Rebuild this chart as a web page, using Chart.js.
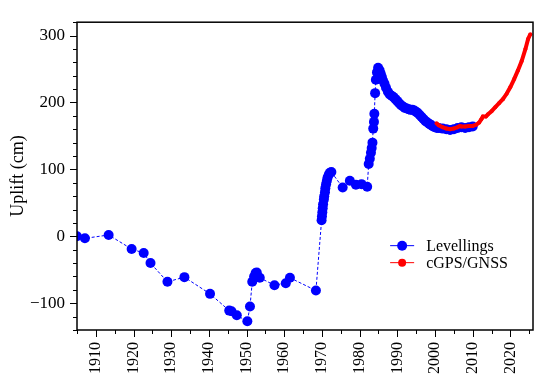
<!DOCTYPE html>
<html lang="en">
<head>
  <meta charset="UTF-8">
  <title>Uplift</title>
  <script src="https://cdn.jsdelivr.net/npm/chart.js@4.4.0/dist/chart.umd.min.js"></script>
  <style>
    html, body { margin: 0; padding: 0; background: #fff; }
  </style>
</head>
<body>
  <canvas id="upliftChart" width="550" height="385"></canvas>

  <script>
    // Levellings (blue dots, dashed line)
    const levelYears = [1905, 1907.1, 1913.4, 1919.5, 1922.7, 1924.5, 1929, 1933.5, 1940.3, 1945.4, 1946, 1947.4,
      1950.2, 1950.9, 1951.5, 1952, 1952.4, 1952.7, 1953.5, 1957.4, 1960.4, 1961.5, 1968.4,
      1969.9, 1970.0, 1970.1, 1970.2, 1970.3, 1970.5, 1970.6, 1970.8, 1970.9, 1971.1, 1971.3, 1971.5, 1971.8, 1972.1, 1972.5,
      1975.5, 1977.4, 1979, 1980.5, 1982,
      1982.4, 1982.7, 1983.0, 1983.2, 1983.4, 1983.6, 1983.8, 1983.9, 1984.1, 1984.3, 1984.6, 1984.9,
      1985.3, 1985.6, 1985.9, 1986.2, 1986.6, 1987.0, 1987.5, 1988.0, 1988.5, 1989.0, 1989.5, 1990.0,
      1990.5, 1991.0, 1991.5, 1992.0, 1992.5, 1993.0, 1993.5, 1994.0, 1994.5, 1995.0, 1995.5, 1996.0,
      1996.5, 1997.0, 1997.5, 1998.0, 1998.5, 1999.0, 1999.5, 2000.0, 2000.5, 2001.0, 2002, 2003,
      2004, 2005, 2006, 2007, 2008, 2009, 2010];
    const levelUplift = [0, -3, 2, -19, -25, -40, -68, -61, -86, -111, -112, -118,
      -127, -105, -68, -60, -55, -54, -62, -73, -70, -62, -81,
      24, 30, 36, 42, 48, 55, 60, 66, 72, 78, 83, 88, 92, 95, 96,
      73, 83, 77, 78, 74,
      108, 116, 125, 132, 140, 161, 171, 183, 214, 234, 245, 252,
      248, 243, 238, 233, 228, 222, 216, 212, 210, 208, 205, 202,
      199, 196, 194, 192, 191, 190, 189, 189, 188, 186, 184, 181,
      178, 175, 172, 170, 168, 166, 164, 163, 162, 162, 161, 160,
      159, 160, 162, 163, 162, 163, 164];

    // cGPS/GNSS (red line)
    const gnssYears = [2000.4, 2001, 2002, 2003, 2004, 2005, 2006, 2006.6, 2007, 2008, 2009, 2010, 2011, 2011.7,
      2012.3, 2012.7, 2013.5, 2014, 2015, 2016, 2017, 2018, 2019, 2020, 2021, 2022, 2023, 2024, 2024.7, 2025.3];
    const gnssUplift = [169, 166, 163, 161, 160, 161, 163, 165, 164, 164, 165, 165, 167, 170,
      175, 179, 179, 182, 187, 193, 199, 205, 213, 223, 235, 248, 262, 280, 295, 302];

    // axes
    const xMajorTicks = [1910, 1920, 1930, 1940, 1950, 1960, 1970, 1980, 1990, 2000, 2010, 2020];
    const xMinorTicks = [1905, 1915, 1925, 1935, 1945, 1955, 1965, 1975, 1985, 1995, 2005, 2015, 2025];
    const yMajorTicks = [-100, 0, 100, 200, 300];
    const yMinorTicks = [-140, -120, -80, -60, -40, -20, 20, 40, 60, 80, 120, 140, 160, 180, 220, 240, 260, 280, 320];

    const serif = '"Liberation Serif", "Times New Roman", serif';

    const toPoints = (xs, ys) => xs.map((x, i) => ({ x: x, y: ys[i] }));

    // frame, outward tick marks and the inside legend
    const framePlugin = {
      id: 'frame',
      afterDraw(chart) {
        const ctx = chart.ctx;
        const a = chart.chartArea;
        const xs = chart.scales.x, ys = chart.scales.y;
        ctx.save();
        ctx.strokeStyle = '#000';
        ctx.lineWidth = 1.5;
        ctx.strokeRect(a.left, a.top, a.right - a.left, a.bottom - a.top);

        ctx.lineWidth = 1;
        ctx.beginPath();
        xMajorTicks.forEach(v => { const p = Math.round(xs.getPixelForValue(v)) + 0.5; ctx.moveTo(p, a.bottom); ctx.lineTo(p, a.bottom + 7); });
        xMinorTicks.forEach(v => { const p = Math.round(xs.getPixelForValue(v)) + 0.5; ctx.moveTo(p, a.bottom); ctx.lineTo(p, a.bottom + 4); });
        yMajorTicks.forEach(v => { const p = Math.round(ys.getPixelForValue(v)) + 0.5; ctx.moveTo(a.left, p); ctx.lineTo(a.left - 7, p); });
        yMinorTicks.forEach(v => { const p = Math.round(ys.getPixelForValue(v)) + 0.5; ctx.moveTo(a.left, p); ctx.lineTo(a.left - 4, p); });
        ctx.stroke();

        // legend
        const lx = a.left + (a.right - a.left) * 0.713;
        const ly = a.top + (a.bottom - a.top) * 0.726;
        const rows = [
          { label: 'Levellings', color: '#0000ff', r: 5 },
          { label: 'cGPS/GNSS', color: '#ff0000', r: 4 }
        ];
        ctx.font = '16px ' + serif;
        ctx.textBaseline = 'middle';
        ctx.textAlign = 'left';
        rows.forEach((row, i) => {
          const y = ly + i * 17;
          ctx.strokeStyle = row.color;
          ctx.lineWidth = 1;
          ctx.beginPath();
          ctx.moveTo(lx - 12, y);
          ctx.lineTo(lx + 12, y);
          ctx.stroke();
          ctx.fillStyle = row.color;
          ctx.beginPath();
          ctx.arc(lx, y, row.r, 0, Math.PI * 2);
          ctx.fill();
          ctx.fillStyle = '#000';
          ctx.fillText(row.label, lx + 24, y + 1);
        });
        ctx.restore();
      }
    };

    new Chart(document.getElementById('upliftChart'), {
      type: 'line',
      data: {
        datasets: [{
          label: 'Levellings',
          data: toPoints(levelYears, levelUplift),
          borderColor: '#0000ff',
          backgroundColor: '#0000ff',
          borderWidth: 1,
          borderDash: [3, 2],
          pointRadius: 5,
          pointBorderWidth: 0,
          order: 1
        }, {
          label: 'cGPS/GNSS',
          data: toPoints(gnssYears, gnssUplift),
          borderColor: '#ff0000',
          backgroundColor: '#ff0000',
          borderWidth: 4,
          pointRadius: 2,
          pointBorderWidth: 0,
          order: 0
        }]
      },
      options: {
        responsive: false,
        animation: false,
        layout: { padding: { top: 13, right: 17, left: 0, bottom: 0 } },
        plugins: {
          legend: { display: false },
          tooltip: { enabled: false }
        },
        scales: {
          x: {
            type: 'linear',
            min: 1905,
            max: 2026,
            grid: { display: false, drawTicks: false },
            border: { display: false },
            afterBuildTicks: s => { s.ticks = xMajorTicks.map(v => ({ value: v })); },
            afterFit: s => { s.height = 55; },
            ticks: {
              minRotation: 90,
              maxRotation: 90,
              padding: 12,
              color: '#000',
              font: { family: serif, size: 16 },
              callback: v => String(v)
            }
          },
          y: {
            min: -140,
            max: 320,
            grid: { display: false, drawTicks: false },
            border: { display: false },
            afterBuildTicks: s => { s.ticks = yMajorTicks.map(v => ({ value: v })); },
            afterFit: s => { s.width = 77; },
            ticks: {
              padding: 12,
              color: '#000',
              font: { family: serif, size: 17 },
              callback: v => (v < 0 ? '\u2212' + Math.abs(v) : String(v))
            },
            title: {
              display: true,
              text: 'Uplift (cm)',
              color: '#000',
              font: { family: serif, size: 18 },
              padding: { top: 7, bottom: 0 }
            }
          }
        }
      },
      plugins: [framePlugin]
    });
  </script>
</body>
</html>
